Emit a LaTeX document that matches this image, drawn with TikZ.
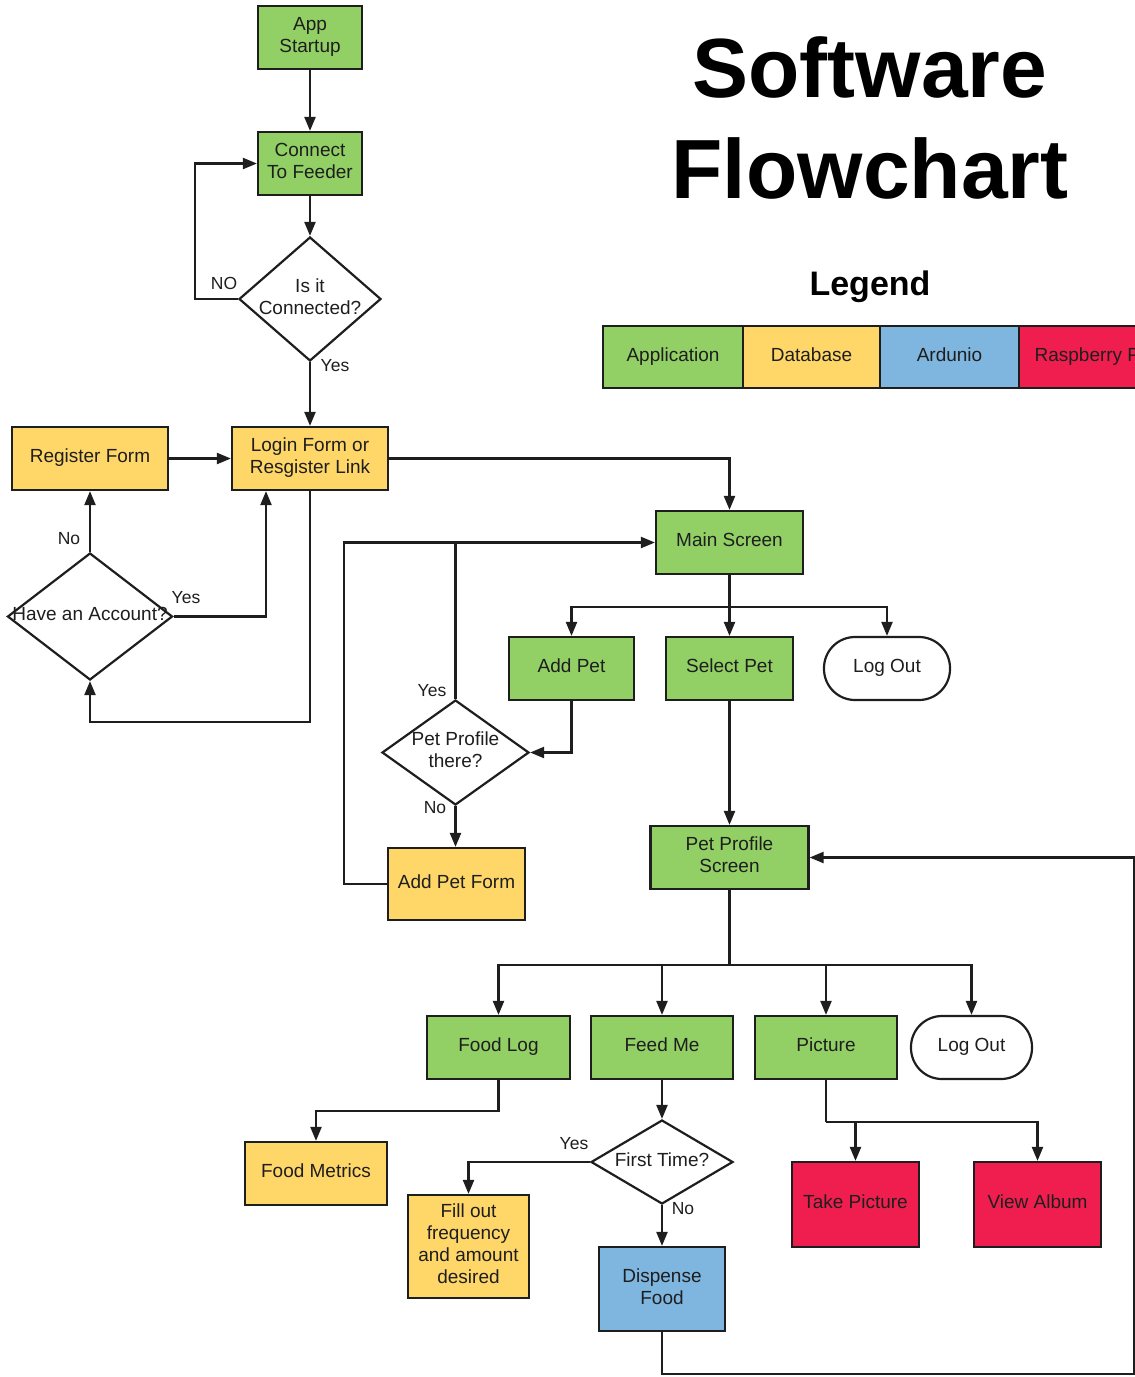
\documentclass[tikz,border=0pt]{standalone}
\usepackage{fontspec}
\setmainfont{Liberation Sans}
\usetikzlibrary{arrows.meta,shapes.geometric,calc}
\definecolor{appgreen}{RGB}{146,208,102}
\definecolor{dbyellow}{RGB}{255,215,104}
\definecolor{ardblue}{RGB}{126,182,224}
\definecolor{rpired}{RGB}{240,30,78}
\definecolor{ink}{RGB}{30,30,30}
\newcommand\nfs{\fontsize{19}{22}\selectfont}
\newcommand\lfs{\fontsize{17.5}{20}\selectfont}
\newcommand\topstrut{\rule{0pt}{13pt}}
\newcommand\botstrut{\rule[-5pt]{0pt}{5pt}}
\tikzset{
  box/.style={draw=ink, line width=2.2pt, minimum height=63pt, inner sep=0pt, align=center, font=\nfs, text=ink,
    execute at begin node=\topstrut, execute at end node=\botstrut},
  app/.style={box, fill=appgreen},
  db/.style={box, fill=dbyellow},
  ard/.style={box, fill=ardblue},
  rpi/.style={box, fill=rpired},
  pill/.style={box, fill=white, rounded corners=31pt},
  dia/.style={draw=ink, line width=2.2pt, shape=diamond, inner sep=0pt, fill=white},
  dlab/.style={font=\nfs, text=ink, align=center, execute at begin node=\topstrut, execute at end node=\botstrut},
  arr/.style={draw=ink, line width=2.2pt, -{Triangle[length=14pt,width=11pt]}},
  ln/.style={draw=ink, line width=2.2pt},
  lab/.style={font=\lfs, text=ink, inner sep=0pt},
}
\begin{document}
\begin{tikzpicture}[x=1pt,y=-1pt]
\useasboundingbox (0,0) rectangle (1135,1377);
\clip (0,0) rectangle (1135,1377);
% title and legend
\node[font=\fontsize{84}{90}\selectfont\bfseries] (t1) at (870,67) {Software};
\node[font=\fontsize{84}{90}\selectfont\bfseries] (t2) at (870,168) {Flowchart};
\node[font=\fontsize{34}{40}\selectfont\bfseries] (leg) at (870,287) {Legend};
\node[app, minimum width=140pt, minimum height=62pt] (lapp) at (673,357) {Application};
\node[db, minimum width=137pt, minimum height=62pt] (ldb) at (811.5,357) {Database};
\node[ard, minimum width=139pt, minimum height=62pt] (lard) at (949.5,357) {Ardunio};
\node[rpi, minimum width=141pt, minimum height=62pt] (lrpi) at (1089.5,357) {Raspberry Pi};
% nodes
\node[app, minimum width=104pt] (start) at (310,37.5) {App\\Startup};
\node[app, minimum width=104pt] (conn) at (310,163.5) {Connect\\To Feeder};
\node[dia, minimum width=142pt, minimum height=124pt, label={[dlab]center:Is it\\Connected?}] (isconn) at (310,299) {};
\node[db, minimum width=156pt] (login) at (310,458.5) {Login Form or\\Resgister Link};
\node[db, minimum width=156pt] (reg) at (90,458.5) {Register Form};
\node[dia, minimum width=165pt, minimum height=127pt, label={[dlab]center:Have an Account?}] (hav) at (90,616.5) {};
\node[app, minimum width=147pt] (main) at (729.5,542.5) {Main Screen};
\node[app, minimum width=125pt] (addpet) at (571.5,668.5) {Add Pet};
\node[app, minimum width=127pt] (selpet) at (729.5,668.5) {Select Pet};
\node[pill, minimum width=126pt] (logout1) at (887,668.5) {Log Out};
\node[dia, minimum width=147pt, minimum height=105pt, label={[dlab]center:Pet Profile\\there?}] (ppt) at (455.5,752.5) {};
\node[db, minimum width=137pt, minimum height=72pt] (apf) at (456.5,884) {Add Pet Form};
\node[app, minimum width=158pt] (pps) at (729.5,857.5) {Pet Profile\\Screen};
\node[app, minimum width=143pt] (foodlog) at (498.5,1047.5) {Food Log};
\node[app, minimum width=142pt] (feedme) at (662,1047.5) {Feed Me};
\node[app, minimum width=142pt] (pic) at (826,1047.5) {Picture};
\node[pill, minimum width=121pt] (logout2) at (971.5,1047.5) {Log Out};
\node[db, minimum width=142pt] (metrics) at (316,1173.5) {Food Metrics};
\node[dia, minimum width=142pt, minimum height=84pt, label={[dlab]center:First Time?}] (first) at (662,1162) {};
\node[db, minimum width=121pt, minimum height=103pt] (fill) at (468.5,1246.5) {Fill out\\frequency\\and amount\\desired};
\node[ard, minimum width=126pt, minimum height=84pt] (disp) at (662,1289) {Dispense\\Food};
\node[rpi, minimum width=127pt, minimum height=85pt] (take) at (855.5,1204.5) {Take Picture};
\node[rpi, minimum width=127pt, minimum height=85pt] (album) at (1037.5,1204.5) {View Album};
% connectors
\draw[arr] (start) -- (conn);
\draw[arr] (conn) -- (isconn);
\draw[arr] (isconn.west) -- ++(-43,0) |- (conn.west);
\draw[arr] (isconn.south) -- (login.north);
\draw[arr] (reg.east) -- (login.west);
\draw[arr] (login.south) -- ++(0,231) -| (hav.south);
\draw[arr] (hav.north) -- (reg.south);
\draw[arr] (hav.east) -| ([xshift=-44pt]login.south);
\draw[arr] (login.east) -| (main.north);
\draw[ln] (main.south) -- ++(0,32) coordinate (b1);
\draw[arr] (b1) -| (addpet.north);
\draw[arr] (b1) -- (selpet.north);
\draw[arr] (b1) -| (logout1.north);
\draw[arr] (addpet.south) |- (ppt.east);
\draw[ln] (ppt.north) -- (ppt.north |- main.west);
\draw[arr] (apf.west) -- ++(-43,0) |- (main.west);
\draw[arr] (ppt.south) -- (ppt.south |- apf.north);
\draw[arr] (selpet.south) -- (pps.north);
\draw[ln] (pps.south) -- ++(0,75) coordinate (b2);
\draw[arr] (b2) -| (foodlog.north);
\draw[arr] (b2) -| (feedme.north);
\draw[arr] (b2) -| (pic.north);
\draw[arr] (b2) -| (logout2.north);
\draw[arr] (foodlog.south) -- ++(0,31) -| (metrics.north);
\draw[arr] (feedme.south) -- (first.north);
\draw[arr] (first.west) -| (fill.north);
\draw[arr] (first.south) -- (disp.north);
\draw[arr] (disp.south) -- ++(0,42) -| ([xshift=324pt]pps.east) -- (pps.east);
\draw[ln] (pic.south) -- ++(0,42) coordinate (b3);
\draw[arr] (b3) -| (take.north);
\draw[arr] (b3) -| (album.north);
% labels
\node[lab] (l1) at (224,283) {NO};
\node[lab] (l2) at (335,366) {Yes};
\node[lab] (l3) at (69,539) {No};
\node[lab] (l4) at (186,598) {Yes};
\node[lab] (l5) at (432,691) {Yes};
\node[lab] (l6) at (435,808) {No};
\node[lab] (l7) at (574,1144) {Yes};
\node[lab] (l8) at (683,1209) {No};
\end{tikzpicture}
\end{document}
